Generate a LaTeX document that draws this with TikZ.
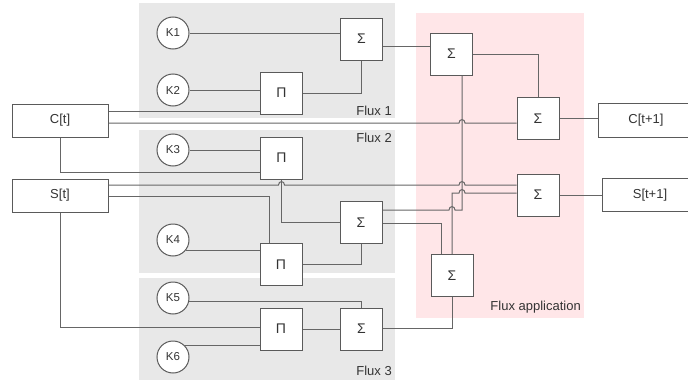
\documentclass[tikz,border=0pt]{standalone}
\usepackage{fontspec}
\setmainfont{Liberation Sans}
\definecolor{panelgray}{HTML}{E8E8E8}
\definecolor{panelpink}{HTML}{FFE6E8}
\definecolor{linegray}{HTML}{666666}
\definecolor{boxgray}{HTML}{5A5A5A}
\definecolor{txt}{HTML}{333333}
\tikzset{
  conn/.style={draw=linegray, line width=1pt},
  kc/.style={circle, draw=boxgray, line width=1pt, fill=white, minimum size=32pt, inner sep=0pt, font=\fontsize{11.5}{12}\selectfont, text=txt},
  opbox/.style={rectangle, draw=boxgray, line width=1pt, fill=white, minimum width=42pt, minimum height=42pt, inner sep=0pt, font=\fontsize{14}{15}\selectfont, text=txt},
  varbox/.style={rectangle, draw=boxgray, line width=1pt, fill=white, minimum width=96pt, minimum height=33pt, inner sep=0pt, font=\fontsize{13}{14}\selectfont, text=txt},
  lbl/.style={font=\fontsize{13}{14}\selectfont, text=txt, inner sep=0pt, anchor=east},
}
\begin{document}
\begin{tikzpicture}[x=1pt,y=-1pt]
\clip (0,0) rectangle (688,380);
\fill[white] (0,0) rectangle (688,380);
% panels
\fill[panelgray] (139,3) rectangle (395,118);
\fill[panelgray] (139,130) rectangle (395,273);
\fill[panelgray] (139,278) rectangle (395,390);
\fill[panelpink] (416,13) rectangle (584,318);
\node[lbl] (L1) at (392,111) {Flux 1};
\node[lbl] (L2) at (392,138) {Flux 2};
\node[lbl] (L3) at (392,371) {Flux 3};
\node[lbl] (LA) at (581,307) {Flux application};
% helper coordinates
\coordinate (y46) at (0,46);
\coordinate (y111) at (0,111);
\coordinate (y123) at (0,123);
\coordinate (y172) at (0,172);
\coordinate (y185) at (0,185);
\coordinate (y193) at (0,193);
\coordinate (y196) at (0,196);
\coordinate (y210) at (0,210);
\coordinate (y222) at (0,222);
\coordinate (y223) at (0,223);
\coordinate (y327) at (0,327);
\coordinate (y328) at (0,328);
\coordinate (x269) at (269,0);
\coordinate (x441) at (441,0);
\coordinate (x462) at (462,0);
% nodes
\node[kc] (K1) at (173,33) {K1};
\node[kc] (K2) at (173,90) {K2};
\node[kc] (K3) at (173,150) {K3};
\node[kc] (K4) at (173,240) {K4};
\node[kc] (K5) at (173,298) {K5};
\node[kc] (K6) at (173,357) {K6};
\node[varbox] (Ct) at (60,120.5) {C[t]};
\node[varbox] (St) at (60,195.5) {S[t]};
\node[varbox, minimum height=34pt] (Ct1) at (646,120) {C[t+1]};
\node[varbox] (St1) at (650,195) {S[t+1]};
\node[opbox] (S1) at (361.5,39) {Σ};
\node[opbox] (P1) at (281.5,93) {Π};
\node[opbox] (P2) at (281.5,158) {Π};
\node[opbox] (P3) at (281,264.5) {Π};
\node[opbox] (S2) at (361,222.5) {Σ};
\node[opbox] (P4) at (281,329) {Π};
\node[opbox] (S3) at (361.5,329) {Σ};
\node[opbox] (Sa) at (451.5,54) {Σ};
\node[opbox] (Sc) at (538,118.5) {Σ};
\node[opbox] (Ss) at (538,195) {Σ};
\node[opbox] (Sb) at (452,275.5) {Σ};
% Flux 1
\path[conn] (K1.east) -- (S1.west |- K1.east);
\path[conn] (K2.east) -- (P1.west |- K2.east);
\path[conn] (Ct.east |- y111) -- (P1.west |- y111);
\path[conn] (P1.east) -| (S1.south);
\path[conn] (S1.east |- y46) -- (Sa.west |- y46);
\path[conn] (Sa.east) -| (Sc.north);
% C[t] to Sc with hop
\path[conn] (Ct.east |- y123) -- (459,123) .. controls (459,118.5) and (465,118.5) .. (465,123) -- (Sc.west |- y123);
% Flux 2
\path[conn] (K3.east) -- (P2.west |- K3.east);
\path[conn] (Ct.south) |- (P2.west |- y172);
\path[conn] (St.east |- y185) -- (278.5,185) .. controls (278.5,180.5) and (284.5,180.5) .. (284.5,185)
   -- (459,185) .. controls (459,180.5) and (465,180.5) .. (465,185) -- (Ss.west |- y185);
\path[conn] (St.east |- y196) -| (P3.north -| x269);
\path[conn] (P2.south) |- (S2.west |- y222);
\path[conn] (K4.-39) -- (P3.west |- K4.-39);
\path[conn] (P3.east) -| (S2.south);
% Flux 2 outputs
\path[conn] (Sa.south -| x462) -- (x462 |- y210) -- (455,210) .. controls (455,205.5) and (449,205.5) .. (449,210) -- (S2.east |- y210);
\path[conn] (S2.east |- y223) -| (Sb.north -| x441);
\path[conn] (Sb.north) -- (Sb.north |- y193) -- (459,193) .. controls (459,188.5) and (465,188.5) .. (465,193) -- (Ss.west |- y193);
% Flux 3
\path[conn] (K5.-11) -| (S3.north);
\path[conn] (St.south) |- (P4.west |- y327);
\path[conn] (K6.43) -- (P4.west |- K6.43);
\path[conn] (P4.east) -- (S3.west);
\path[conn] (S3.east |- y328) -| (Sb.south);
% outputs
\path[conn] (Sc.east) -- (Ct1.west |- Sc.east);
\path[conn] (Ss.east) -- (St1.west |- Ss.east);
\end{tikzpicture}
\end{document}
